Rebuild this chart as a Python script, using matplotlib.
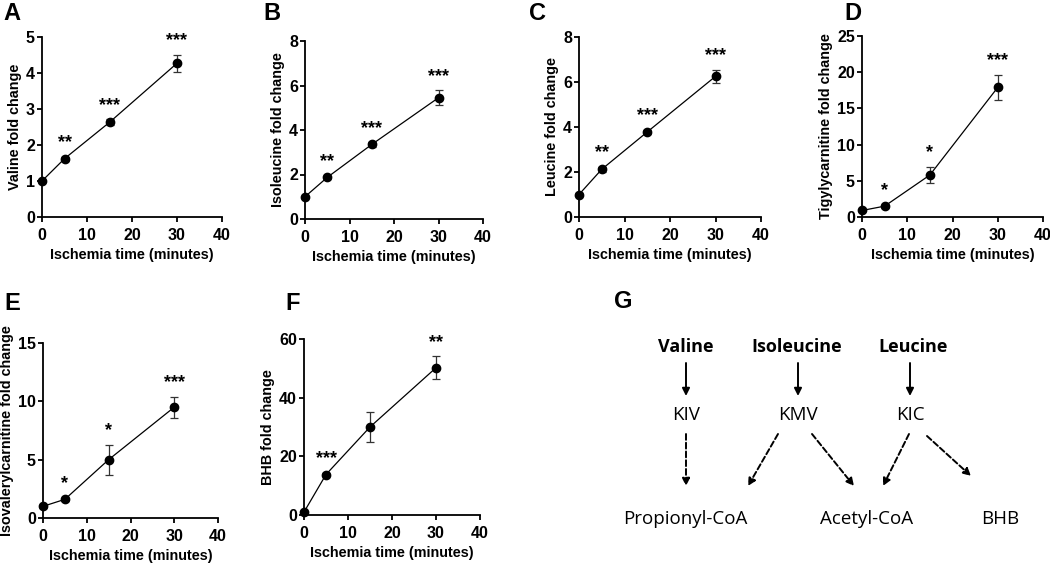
import matplotlib
matplotlib.use('Agg')
import matplotlib.pyplot as plt

plt.rcParams['font.family'] = ['Liberation Sans', 'DejaVu Sans']

# --- Data ---
TIMES = [0, 5, 15, 30]

valine = [1.0, 1.62, 2.63, 4.27]
valine_err = [0.04, 0.06, 0.08, 0.23]
valine_stars = ['', '**', '***', '***']

isoleucine = [1.0, 1.87, 3.35, 5.45]
isoleucine_err = [0.05, 0.08, 0.1, 0.33]
isoleucine_stars = ['', '**', '***', '***']

leucine = [1.0, 2.12, 3.78, 6.25]
leucine_err = [0.05, 0.1, 0.1, 0.3]
leucine_stars = ['', '**', '***', '***']

tiglyl = [0.9, 1.5, 5.8, 17.9]
tiglyl_err = [0.1, 0.2, 1.1, 1.7]
tiglyl_stars = ['', '*', '*', '***']

isovaleryl = [1.0, 1.6, 5.0, 9.5]
isovaleryl_err = [0.1, 0.15, 1.3, 0.9]
isovaleryl_stars = ['', '*', '*', '***']

bhb = [1.0, 13.8, 30.0, 50.2]
bhb_err = [0.5, 0.6, 5.2, 3.9]
bhb_stars = ['', '***', '', '**']

# (letter, ylabel, values, errors, stars, ymax, ystep, pixel box x0,y0,x1,y1, letter pos)
PANELS = [
    ('A', 'Valine fold change', valine, valine_err, valine_stars, 5, 1, (42, 37, 222, 217), (12, 14)),
    ('B', 'Isoleucine fold change', isoleucine, isoleucine_err, isoleucine_stars, 8, 2, (305, 41, 483, 219), (272, 14)),
    ('C', 'Leucine fold change', leucine, leucine_err, leucine_stars, 8, 2, (579, 37, 761, 217), (537, 14)),
    ('D', 'Tigylycarnitine fold change', tiglyl, tiglyl_err, tiglyl_stars, 25, 5, (862, 36, 1043, 217), (853, 14)),
    ('E', 'Isovalerylcarnitine fold change', isovaleryl, isovaleryl_err, isovaleryl_stars, 15, 5, (43, 343, 218, 518), (12, 303)),
    ('F', 'BHB fold change', bhb, bhb_err, bhb_stars, 60, 20, (304, 339, 480, 515), (293, 303)),
]

W, H = 1050, 564
fig = plt.figure(figsize=(W / 100, H / 100), dpi=100)

# overlay axes in pixel coordinates for panel letters and the pathway diagram
over = fig.add_axes([0, 0, 1, 1], zorder=5)
over.set_xlim(0, W)
over.set_ylim(H, 0)
over.axis('off')
over.patch.set_alpha(0)

for letter, ylabel, vals, errs, stars, ymax, ystep, box, lpos in PANELS:
    x0, y0, x1, y1 = box
    ax = fig.add_axes([x0 / W, 1 - y1 / H, (x1 - x0) / W, (y1 - y0) / H])
    ax.errorbar(TIMES, vals, yerr=errs, color='black', lw=0.9, marker='o', ms=6,
                ecolor='#333333', elinewidth=0.9, capsize=3, capthick=0.9, clip_on=False, zorder=3)
    ax.set_xlim(0, 40)
    ax.set_ylim(0, ymax)
    ax.set_xticks(range(0, 41, 10))
    ax.set_yticks(range(0, ymax + 1, ystep))
    for s in ['top', 'right']:
        ax.spines[s].set_visible(False)
    for s in ['left', 'bottom']:
        ax.spines[s].set_linewidth(1.3)
    ax.tick_params(width=1.3, length=3.6, labelsize=11.5)
    ax.tick_params(axis='x', pad=4.5)
    ax.tick_params(axis='y', pad=1.5)
    for lab in ax.get_xticklabels() + ax.get_yticklabels():
        lab.set_fontweight('bold')
    ax.set_xlabel('Ischemia time (minutes)', fontsize=10.4, fontweight='bold', labelpad=3.5)
    ax.set_ylabel(ylabel, fontsize=10.4, fontweight='bold', labelpad=3)
    for t, v, e, st in zip(TIMES, vals, errs, stars):
        if st:
            ax.annotate(st, (t, v + e), xytext=(0, 4), textcoords='offset points',
                        ha='center', va='bottom', fontsize=13, fontweight='bold', annotation_clip=False)
    over.text(lpos[0], lpos[1], letter, fontsize=17, fontweight='bold', ha='center', va='center')

# --- Panel G: BCAA pathway diagram ---
over.text(623, 301, 'G', fontsize=17, fontweight='bold', ha='center', va='center')

diag_font = ['Open Sans', 'DejaVu Sans']
top_nodes = [('Valine', 686), ('Isoleucine', 797), ('Leucine', 913)]
mid_nodes = [('KIV', 686), ('KMV', 798), ('KIC', 910)]
end_nodes = [('Propionyl-CoA', 685), ('Acetyl-CoA', 867), ('BHB', 1000)]

for name, x in top_nodes:
    over.text(x, 347, name, fontsize=13, fontweight='bold', ha='center', va='center', family=diag_font)
for name, x in mid_nodes:
    over.text(x, 415, name, fontsize=13.5, ha='center', va='center', family=diag_font)
for name, x in end_nodes:
    over.text(x, 519, name, fontsize=13.5, ha='center', va='center', family=diag_font)

solid_arrows = [((686, 363), (686, 396)), ((798, 363), (798, 396)), ((910, 363), (910, 396))]
dashed_arrows = [((686, 434), (686, 486)), ((778, 434), (748, 486)), ((812, 434), (854, 486)),
                 ((909, 434), (883, 486)), ((927, 436), (971, 476))]

for (sx, sy), (ex, ey) in solid_arrows:
    over.annotate('', xy=(ex, ey), xytext=(sx, sy),
                  arrowprops=dict(arrowstyle='-|>', color='black', lw=1.4, mutation_scale=11,
                                  shrinkA=0, shrinkB=0))
for (sx, sy), (ex, ey) in dashed_arrows:
    over.annotate('', xy=(ex, ey), xytext=(sx, sy),
                  arrowprops=dict(arrowstyle='-|>', color='black', lw=1.4, ls=(0, (3, 1.5)),
                                  mutation_scale=11, shrinkA=0, shrinkB=0))

fig.savefig('out.png', dpi=100)
